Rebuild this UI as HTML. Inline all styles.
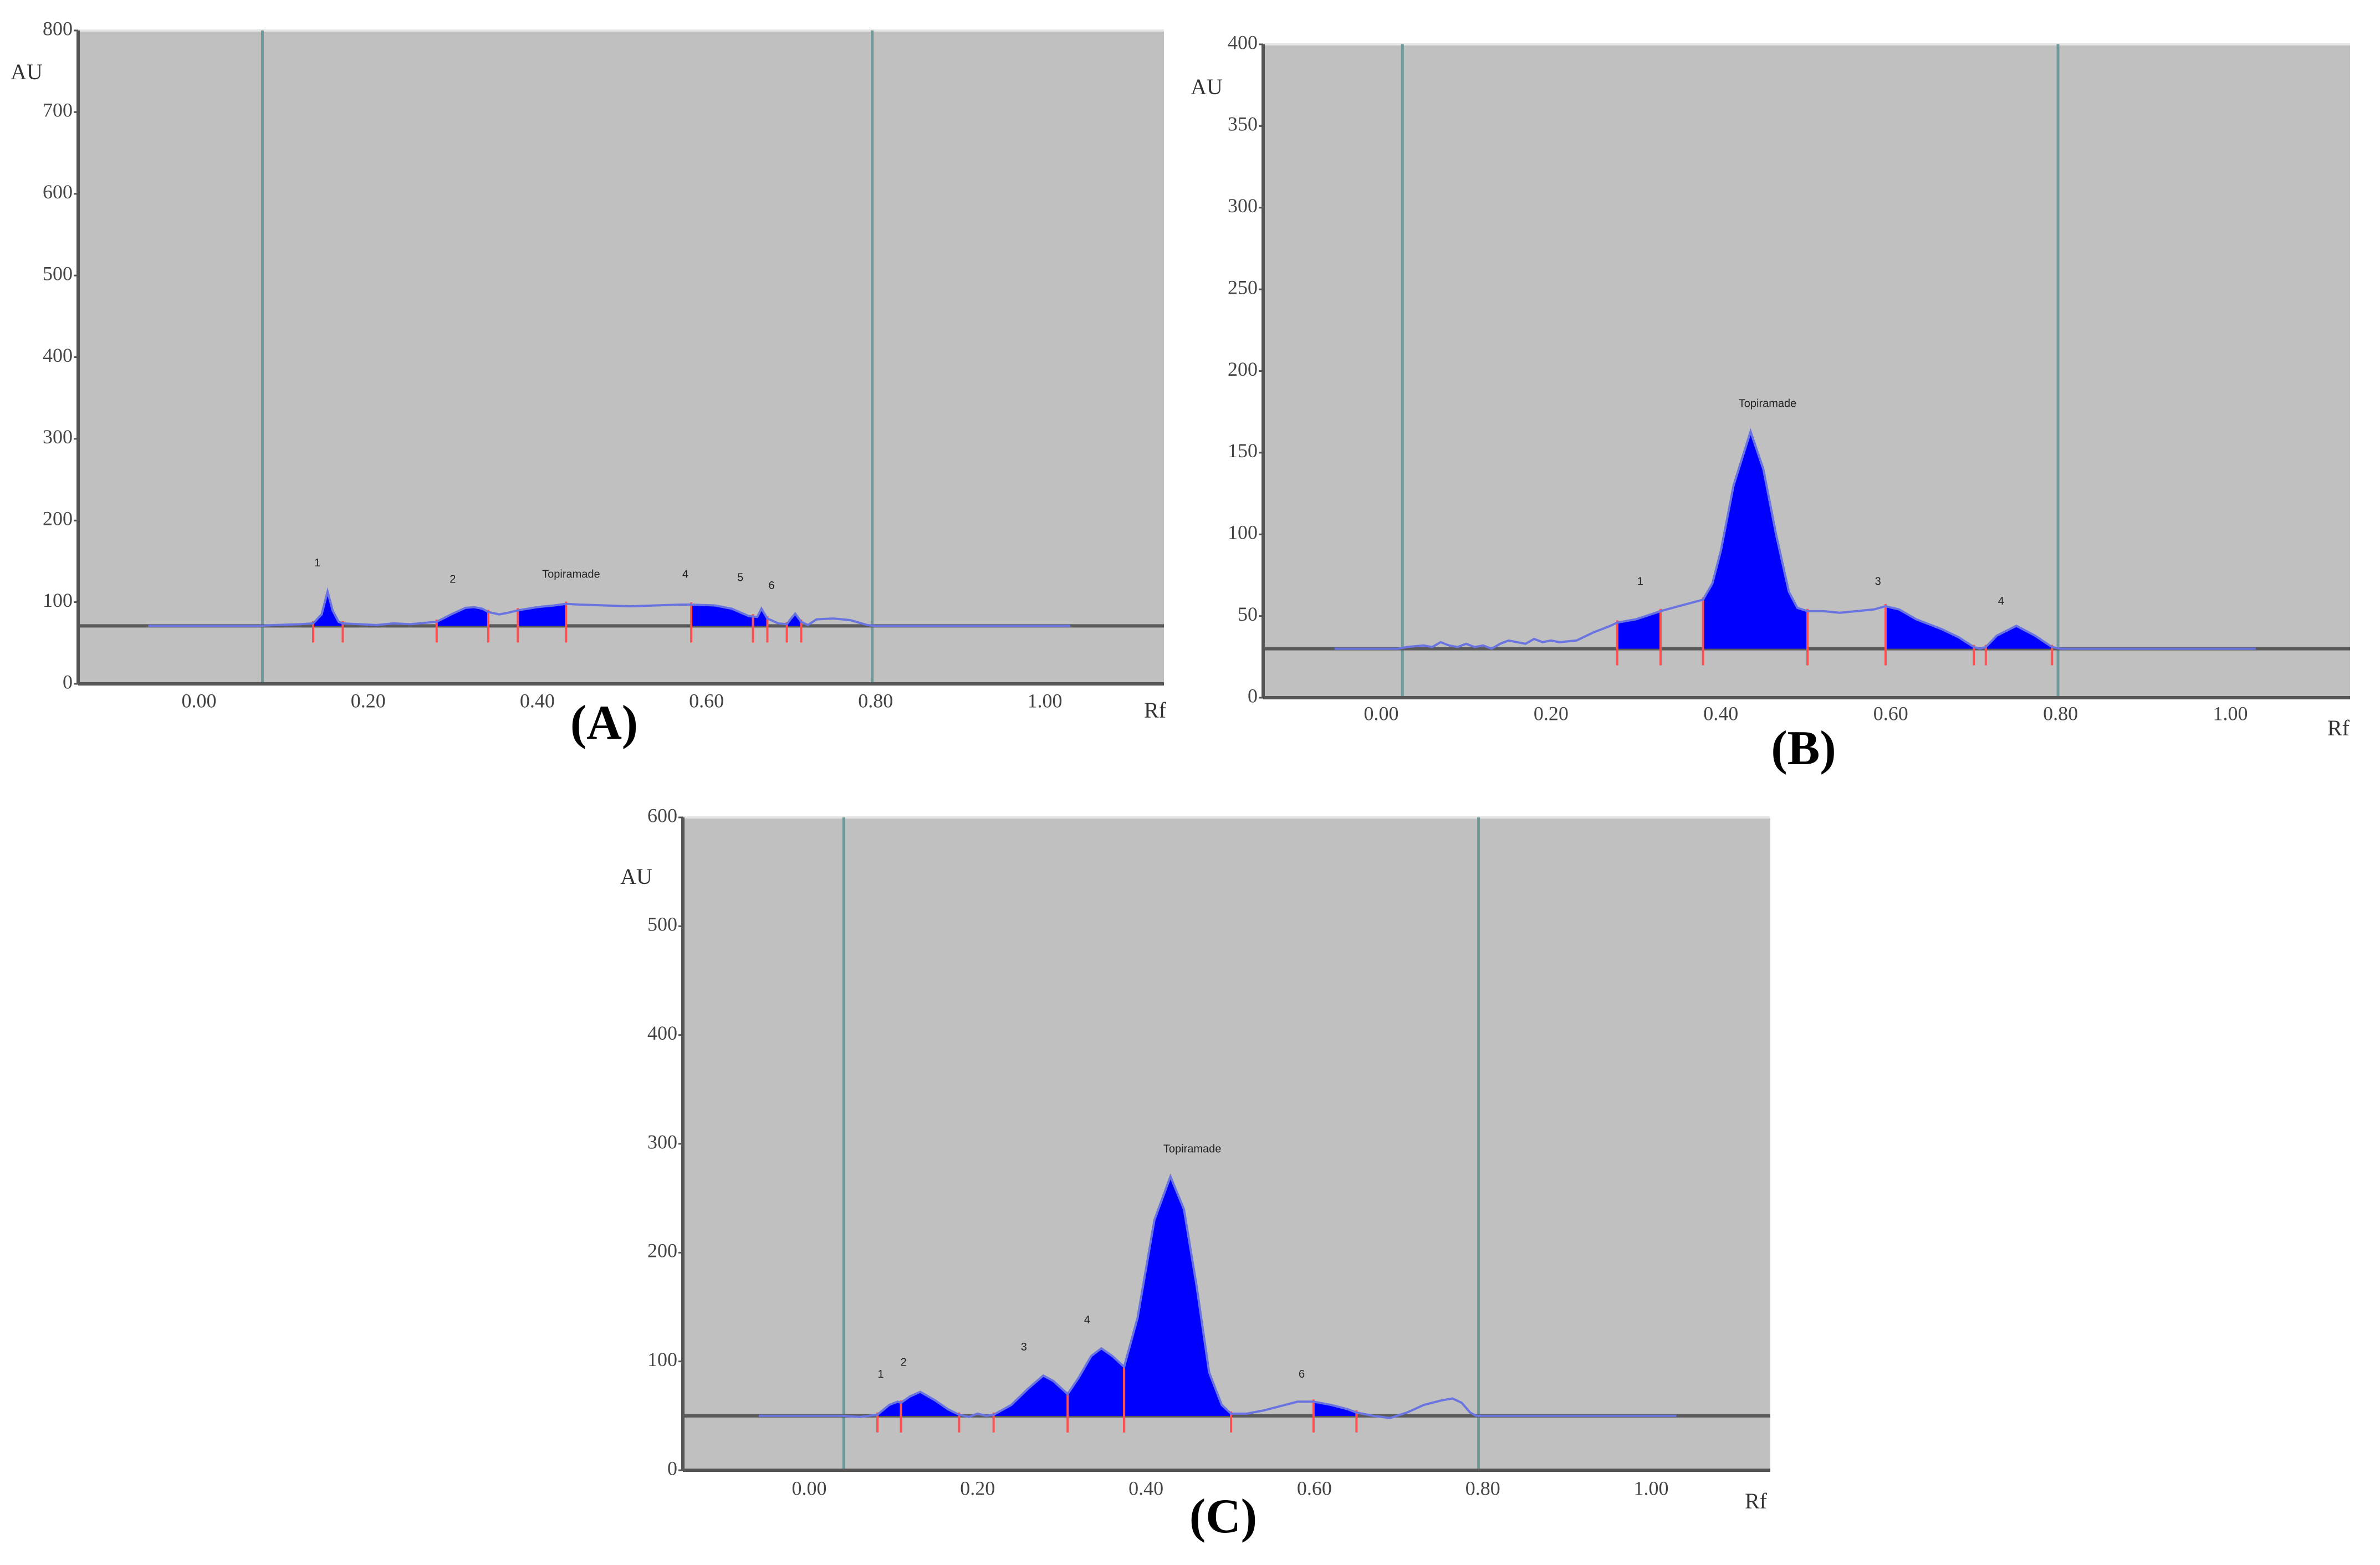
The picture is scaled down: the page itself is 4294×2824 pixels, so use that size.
<!DOCTYPE html>
<html><head><meta charset="utf-8">
<style>
html,body{margin:0;padding:0;background:#fff;}
svg{display:block;}
</style></head>
<body>
<svg id="fig" xmlns="http://www.w3.org/2000/svg" width="4294" height="2824" viewBox="0 0 4294 2824"></svg>
<script>
// ---------- Panel A data ----------
const aRf = [-0.06,0.07,0.09,0.12,0.135,0.145,0.152,0.158,0.165,0.17,0.19,0.21,0.23,0.25,0.27,0.281,0.30,0.315,0.325,0.335,0.342,0.355,0.365,0.377,0.40,0.42,0.434,0.45,0.48,0.51,0.54,0.57,0.582,0.61,0.63,0.65,0.66,0.665,0.672,0.685,0.695,0.70,0.705,0.712,0.72,0.73,0.75,0.77,0.79,0.80,1.03];
const aAu = [71,71,72,73,74,85,113,90,76,74,73,72,74,73,75,76,86,93,94,92,88,85,87,90,94,96,98,97,96,95,96,97,97,96,92,83,82,92,80,74,73,80,86,76,72,79,80,78,72,71,71];
const aFillStart = [0.135,0.281,0.377,0.582,0.655,0.695];
const aFillEnd = [0.17,0.342,0.434,0.655,0.672,0.712];
const aPeakLabels = ["1","2","Topiramade","4","5","6"];
const aLabelRf = [0.14,0.30,0.44,0.575,0.64,0.677];
const aLabelAu = [144,124,130,130,126,116];
const aBaseline = 71;
const aYTicks = [0,100,200,300,400,500,600,700,800];

// ---------- Panel B data ----------
const bRf = [-0.055,0.02,0.03,0.05,0.06,0.07,0.08,0.09,0.10,0.11,0.12,0.13,0.14,0.15,0.16,0.17,0.18,0.19,0.20,0.21,0.23,0.25,0.27,0.278,0.30,0.329,0.35,0.379,0.39,0.40,0.415,0.435,0.45,0.465,0.48,0.49,0.502,0.52,0.54,0.56,0.58,0.594,0.61,0.63,0.66,0.68,0.698,0.705,0.712,0.725,0.748,0.77,0.79,0.80,1.03];
const bAu = [30,30,31,32,31,34,32,31,33,31,32,30,33,35,34,33,36,34,35,34,35,40,44,46,48,53,56,60,70,90,130,163,140,100,65,55,53,53,52,53,54,56,54,48,42,37,31,30,31,38,44,38,31,30,30];
const bFillStart = [0.278,0.379,0.594,0.712];
const bFillEnd = [0.329,0.502,0.698,0.790];
const bPeakLabels = ["1","Topiramade","3","4"];
const bLabelRf = [0.305,0.455,0.585,0.73];
const bLabelAu = [69,178,69,57];
const bBaseline = 30;
const bYTicks = [0,50,100,150,200,250,300,350,400];

// ---------- Panel C data ----------
const cRf = [-0.06,0.04,0.06,0.081,0.095,0.105,0.109,0.12,0.132,0.15,0.165,0.178,0.19,0.20,0.21,0.219,0.24,0.26,0.278,0.29,0.307,0.32,0.335,0.347,0.36,0.374,0.39,0.41,0.429,0.445,0.46,0.475,0.49,0.501,0.52,0.54,0.56,0.58,0.599,0.62,0.64,0.65,0.67,0.69,0.71,0.73,0.75,0.764,0.775,0.785,0.792,1.03];
const cAu = [50,50,49,51,60,63,62,68,72,64,56,51,49,52,50,51,60,75,87,82,70,85,105,112,105,95,140,230,270,240,170,90,60,52,52,55,59,63,63,60,56,53,50,48,53,60,64,66,62,53,50,50];
const cFillStart = [0.081,0.109,0.219,0.307,0.374,0.599];
const cFillEnd = [0.109,0.178,0.307,0.374,0.501,0.650];
const cPeakLabels = ["1","2","3","4","Topiramade","6"];
const cLabelRf = [0.085,0.112,0.255,0.33,0.455,0.585];
const cLabelAu = [85,96,110,135,292,85];
const cBaseline = 50;
const cYTicks = [0,100,200,300,400,500,600];

const xTickVals = [0,0.2,0.4,0.6,0.8,1.0];
const xTickText = ["0.00","0.20","0.40","0.60","0.80","1.00"];

const NS = "http://www.w3.org/2000/svg";
const svg = document.getElementById('fig');
function mk(tag, attrs, parent){
  const e = document.createElementNS(NS, tag);
  for (const k in attrs) e.setAttribute(k, attrs[k]);
  (parent||svg).appendChild(e);
  return e;
}
function interp(rfArr, auArr, r){
  for (let i=0;i<rfArr.length-1;i++){
    if (r>=rfArr[i] && r<=rfArr[i+1]){
      const t=(r-rfArr[i])/(rfArr[i+1]-rfArr[i]);
      return auArr[i]+t*(auArr[i+1]-auArr[i]);
    }
  }
  return auArr[auArr.length-1];
}

function drawPanel(P, rfArr, auArr, fs, fe, labels, lRf, lAu, base, yTicks){
  const g = mk('g', {});
  
  
  const ymax = yTicks[yTicks.length-1];
  const X = r => P.x0 + r*P.ppr;
  const Y = v => P.bottom - v/ymax*(P.bottom-P.top);

  const bg = mk('rect', {x:P.left, y:P.top, width:P.right-P.left, height:P.bottom-P.top, fill:'#c0c0c0'}, g);
  
  
  const topb = mk('line', {x1:P.left, y1:P.top, x2:P.right, y2:P.top, stroke:'#e6e6e6', 'stroke-width':4}, g);
  
  

  // teal window lines
  P.teal.forEach(t => {
    const l = mk('line', {x1:X(t), y1:P.top, x2:X(t), y2:P.bottom, stroke:'#6f9a9a', 'stroke-width':5}, g);
    
    
  });

  // baseline
  const bl = mk('line', {x1:P.left, y1:Y(base), x2:P.right, y2:Y(base), stroke:'#5a5a5a', 'stroke-width':6}, g);
  
  

  // fills
  for (let k=0;k<fs.length;k++){
    let pts = [[X(fs[k]), Y(base)], [X(fs[k]), Y(interp(rfArr,auArr,fs[k]))]];
    for (let i=0;i<rfArr.length;i++) if (rfArr[i]>fs[k] && rfArr[i]<fe[k]) pts.push([X(rfArr[i]), Y(auArr[i])]);
    pts.push([X(fe[k]), Y(interp(rfArr,auArr,fe[k]))]);
    pts.push([X(fe[k]), Y(base)]);
    const pf = mk('polygon', {points: pts.map(p=>p.join(',')).join(' '), fill:'#0000ff'}, g);
    
    
    [fs[k], fe[k]].forEach(r => {
      const m = mk('line', {x1:X(r), y1:Y(interp(rfArr,auArr,r))-4, x2:X(r), y2:Y(base)+30, stroke:'#ff5050', 'stroke-width':4}, g);
      
      
    });
  }

  // trace
  const d = rfArr.map((r,i)=>(i?'L':'M')+X(r).toFixed(1)+','+Y(auArr[i]).toFixed(1)).join(' ');
  const tr = mk('path', {d:d, fill:'none', stroke:'#6a74e0', 'stroke-width':4}, g);
  
  

  // peak labels
  for (let k=0;k<labels.length;k++){
    const t = mk('text', {x:X(lRf[k]), y:Y(lAu[k]), 'font-family':'Liberation Sans, sans-serif', 'font-size':20, 'text-anchor':'middle', fill:'#222'}, g);
    t.textContent = labels[k];
    
    
  }

  // axes
  const ya = mk('line', {x1:P.left, y1:P.top, x2:P.left, y2:P.bottom, stroke:'#555', 'stroke-width':6}, g);
  
  
  const xa = mk('line', {x1:P.left, y1:P.bottom, x2:P.right, y2:P.bottom, stroke:'#555', 'stroke-width':6}, g);
  
  

  yTicks.forEach(v => {
    const t = mk('text', {x:P.left-10, y:Y(v), 'font-family':'Liberation Serif, serif', 'font-size':36, 'text-anchor':'end', 'dominant-baseline':'middle', fill:'#444'}, g);
    t.textContent = String(v);
    
    
    const tk = mk('line', {x1:P.left-8, y1:Y(v), x2:P.left, y2:Y(v), stroke:'#555', 'stroke-width':3}, g);
    
    
  });
  xTickVals.forEach((v,i) => {
    const t = mk('text', {x:X(v), y:P.tickY, 'font-family':'Liberation Serif, serif', 'font-size':36, 'text-anchor':'middle', 'dominant-baseline':'middle', fill:'#444'}, g);
    t.textContent = xTickText[i];
    
    
  });

  const au = mk('text', {x:P.au[0], y:P.au[1], 'font-family':'Liberation Serif, serif', 'font-size':40, 'text-anchor':'middle', 'dominant-baseline':'middle', fill:'#333'}, g);
  au.textContent = 'AU';
  
  
  const rf = mk('text', {x:P.rf[0], y:P.rf[1], 'font-family':'Liberation Serif, serif', 'font-size':40, 'text-anchor':'middle', 'dominant-baseline':'middle', fill:'#333'}, g);
  rf.textContent = 'Rf';
  
  
  const ti = mk('text', {x:P.title[0], y:P.title[1], 'font-family':'Liberation Serif, serif', 'font-size':88, 'font-weight':'bold', 'text-anchor':'middle', 'dominant-baseline':'middle', fill:'#000'}, g);
  ti.textContent = '(' + P.id + ')';
  
  
}

drawPanel({id:'A', left:141, right:2100, top:55, bottom:1234, x0:359, ppr:1526, teal:[0.075,0.796], tickY:1268, au:[48,134], rf:[2084,1286], title:[1090,1313]},
  aRf, aAu, aFillStart, aFillEnd, aPeakLabels, aLabelRf, aLabelAu, aBaseline, aYTicks);
drawPanel({id:'B', left:2279, right:4240, top:80, bottom:1259, x0:2492, ppr:1532, teal:[0.025,0.797], tickY:1291, au:[2177,161], rf:[4219,1318], title:[3254,1359]},
  bRf, bAu, bFillStart, bFillEnd, bPeakLabels, bLabelRf, bLabelAu, bBaseline, bYTicks);
drawPanel({id:'C', left:1232, right:3194, top:1475, bottom:2653, x0:1460, ppr:1519, teal:[0.041,0.795], tickY:2689, au:[1148,1586], rf:[3168,2713], title:[2207,2745]},
  cRf, cAu, cFillStart, cFillEnd, cPeakLabels, cLabelRf, cLabelAu, cBaseline, cYTicks);
</script>
</body></html>
